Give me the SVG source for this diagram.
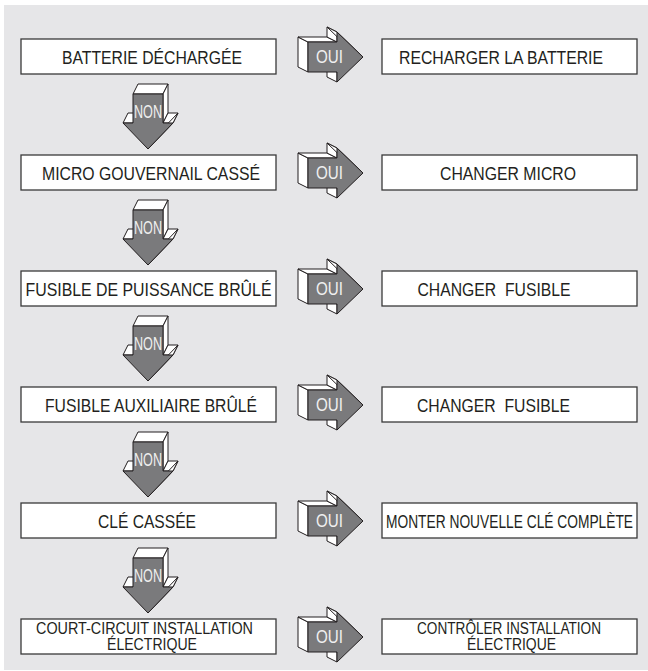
<svg xmlns="http://www.w3.org/2000/svg" xmlns:xlink="http://www.w3.org/1999/xlink" width="648" height="671" viewBox="0 0 648 671">
<style>
.box{fill:#ffffff;stroke:#3a3a3a;stroke-width:1.3}
.t{font-family:"Liberation Sans",Arial,sans-serif;font-size:18px;fill:#231f20;text-anchor:middle;white-space:pre}
.t2{font-family:"Liberation Sans",Arial,sans-serif;font-size:16px;fill:#231f20;text-anchor:middle}
.lbl{font-family:"Liberation Sans",Arial,sans-serif;font-size:18px;fill:#f0f0f0;text-anchor:middle}
.face{fill:#ffffff;stroke:#231f20;stroke-width:1;stroke-linejoin:round}
.front{fill:#7a7a7c;stroke:#231f20;stroke-width:1;stroke-linejoin:round}
</style>
<defs>
<g id="arr">
<path class="face" d="M0,-15 L0,15 L-10,10 L-10,-20 Z"/>
<path class="face" d="M0,-15 L29,-15 L19,-20 L-10,-20 Z"/>
<path class="face" d="M29,-25 L29,-15 L19,-20 L19,-30 Z"/>
<path class="face" d="M29,-25 L55,0 L45,-5 L19,-30 Z"/>
<path class="face" d="M29,15 L29,25 L19,20 L19,10 Z"/>
<path class="front" d="M0,-15 L29,-15 L29,-25 L55,0 L29,25 L29,15 L0,15 Z"/>
</g>
</defs>
<rect x="4" y="5" width="644" height="665" fill="#e6e6e8"/>
<g id="connectors">
<g id="oui1"><use xlink:href="#arr" transform="translate(308,57)"/><text class="lbl" x="329.5" y="63" textLength="27" lengthAdjust="spacingAndGlyphs">OUI</text></g>
<g id="oui2"><use xlink:href="#arr" transform="translate(308,173)"/><text class="lbl" x="329.5" y="179" textLength="27" lengthAdjust="spacingAndGlyphs">OUI</text></g>
<g id="oui3"><use xlink:href="#arr" transform="translate(308,289)"/><text class="lbl" x="329.5" y="295" textLength="27" lengthAdjust="spacingAndGlyphs">OUI</text></g>
<g id="oui4"><use xlink:href="#arr" transform="translate(308,405)"/><text class="lbl" x="329.5" y="411" textLength="27" lengthAdjust="spacingAndGlyphs">OUI</text></g>
<g id="oui5"><use xlink:href="#arr" transform="translate(308,521)"/><text class="lbl" x="329.5" y="527" textLength="27" lengthAdjust="spacingAndGlyphs">OUI</text></g>
<g id="oui6"><use xlink:href="#arr" transform="translate(308,637)"/><text class="lbl" x="329.5" y="643" textLength="27" lengthAdjust="spacingAndGlyphs">OUI</text></g>
<g id="non1"><use xlink:href="#arr" transform="translate(148,94) rotate(90)"/><text class="lbl" x="148" y="118" textLength="28" lengthAdjust="spacingAndGlyphs">NON</text></g>
<g id="non2"><use xlink:href="#arr" transform="translate(148,210) rotate(90)"/><text class="lbl" x="148" y="234" textLength="28" lengthAdjust="spacingAndGlyphs">NON</text></g>
<g id="non3"><use xlink:href="#arr" transform="translate(148,326) rotate(90)"/><text class="lbl" x="148" y="350" textLength="28" lengthAdjust="spacingAndGlyphs">NON</text></g>
<g id="non4"><use xlink:href="#arr" transform="translate(148,442) rotate(90)"/><text class="lbl" x="148" y="466" textLength="28" lengthAdjust="spacingAndGlyphs">NON</text></g>
<g id="non5"><use xlink:href="#arr" transform="translate(148,558) rotate(90)"/><text class="lbl" x="148" y="582" textLength="28" lengthAdjust="spacingAndGlyphs">NON</text></g>
</g>
<g id="q1"><rect class="box" x="21" y="39" width="255" height="35"/><text class="t" x="152" y="64" textLength="180" lengthAdjust="spacingAndGlyphs">BATTERIE DÉCHARGÉE</text></g>
<g id="a1"><rect class="box" x="382" y="39" width="255" height="35"/><text class="t" x="501" y="64" textLength="204" lengthAdjust="spacingAndGlyphs">RECHARGER LA BATTERIE</text></g>
<g id="q2"><rect class="box" x="21" y="155" width="255" height="35"/><text class="t" x="151" y="180" textLength="218" lengthAdjust="spacingAndGlyphs">MICRO GOUVERNAIL CASSÉ</text></g>
<g id="a2"><rect class="box" x="382" y="155" width="255" height="35"/><text class="t" x="508" y="180" textLength="136" lengthAdjust="spacingAndGlyphs">CHANGER MICRO</text></g>
<g id="q3"><rect class="box" x="21" y="271" width="255" height="35"/><text class="t" x="148.5" y="296" textLength="246" lengthAdjust="spacingAndGlyphs">FUSIBLE DE PUISSANCE BRÛLÉ</text></g>
<g id="a3"><rect class="box" x="382" y="271" width="255" height="35"/><text class="t" x="494" y="296" textLength="153" lengthAdjust="spacingAndGlyphs">CHANGER  FUSIBLE</text></g>
<g id="q4"><rect class="box" x="21" y="387" width="255" height="35"/><text class="t" x="151" y="412" textLength="212" lengthAdjust="spacingAndGlyphs">FUSIBLE AUXILIAIRE BRÛLÉ</text></g>
<g id="a4"><rect class="box" x="382" y="387" width="255" height="35"/><text class="t" x="493.5" y="412" textLength="153" lengthAdjust="spacingAndGlyphs">CHANGER  FUSIBLE</text></g>
<g id="q5"><rect class="box" x="21" y="503" width="255" height="35"/><text class="t" x="147" y="528" textLength="98" lengthAdjust="spacingAndGlyphs">CLÉ CASSÉE</text></g>
<g id="a5"><rect class="box" x="382" y="503" width="255" height="35"/><text class="t" transform="scale(0.765,1)" x="666" y="528">MONTER NOUVELLE CLÉ COMPLÈTE</text></g>
<g id="q6"><rect class="box" x="21" y="619" width="255" height="35"/><text class="t2" x="144.5" y="634" textLength="217" lengthAdjust="spacingAndGlyphs">COURT-CIRCUIT INSTALLATION</text><text class="t2" x="152" y="650" textLength="90" lengthAdjust="spacingAndGlyphs">ÉLECTRIQUE</text></g>
<g id="a6"><rect class="box" x="382" y="619" width="255" height="35"/><text class="t2" x="509" y="634" textLength="184" lengthAdjust="spacingAndGlyphs">CONTRÔLER INSTALLATION</text><text class="t2" x="511.5" y="650" textLength="89" lengthAdjust="spacingAndGlyphs">ÉLECTRIQUE</text></g>
</svg>
